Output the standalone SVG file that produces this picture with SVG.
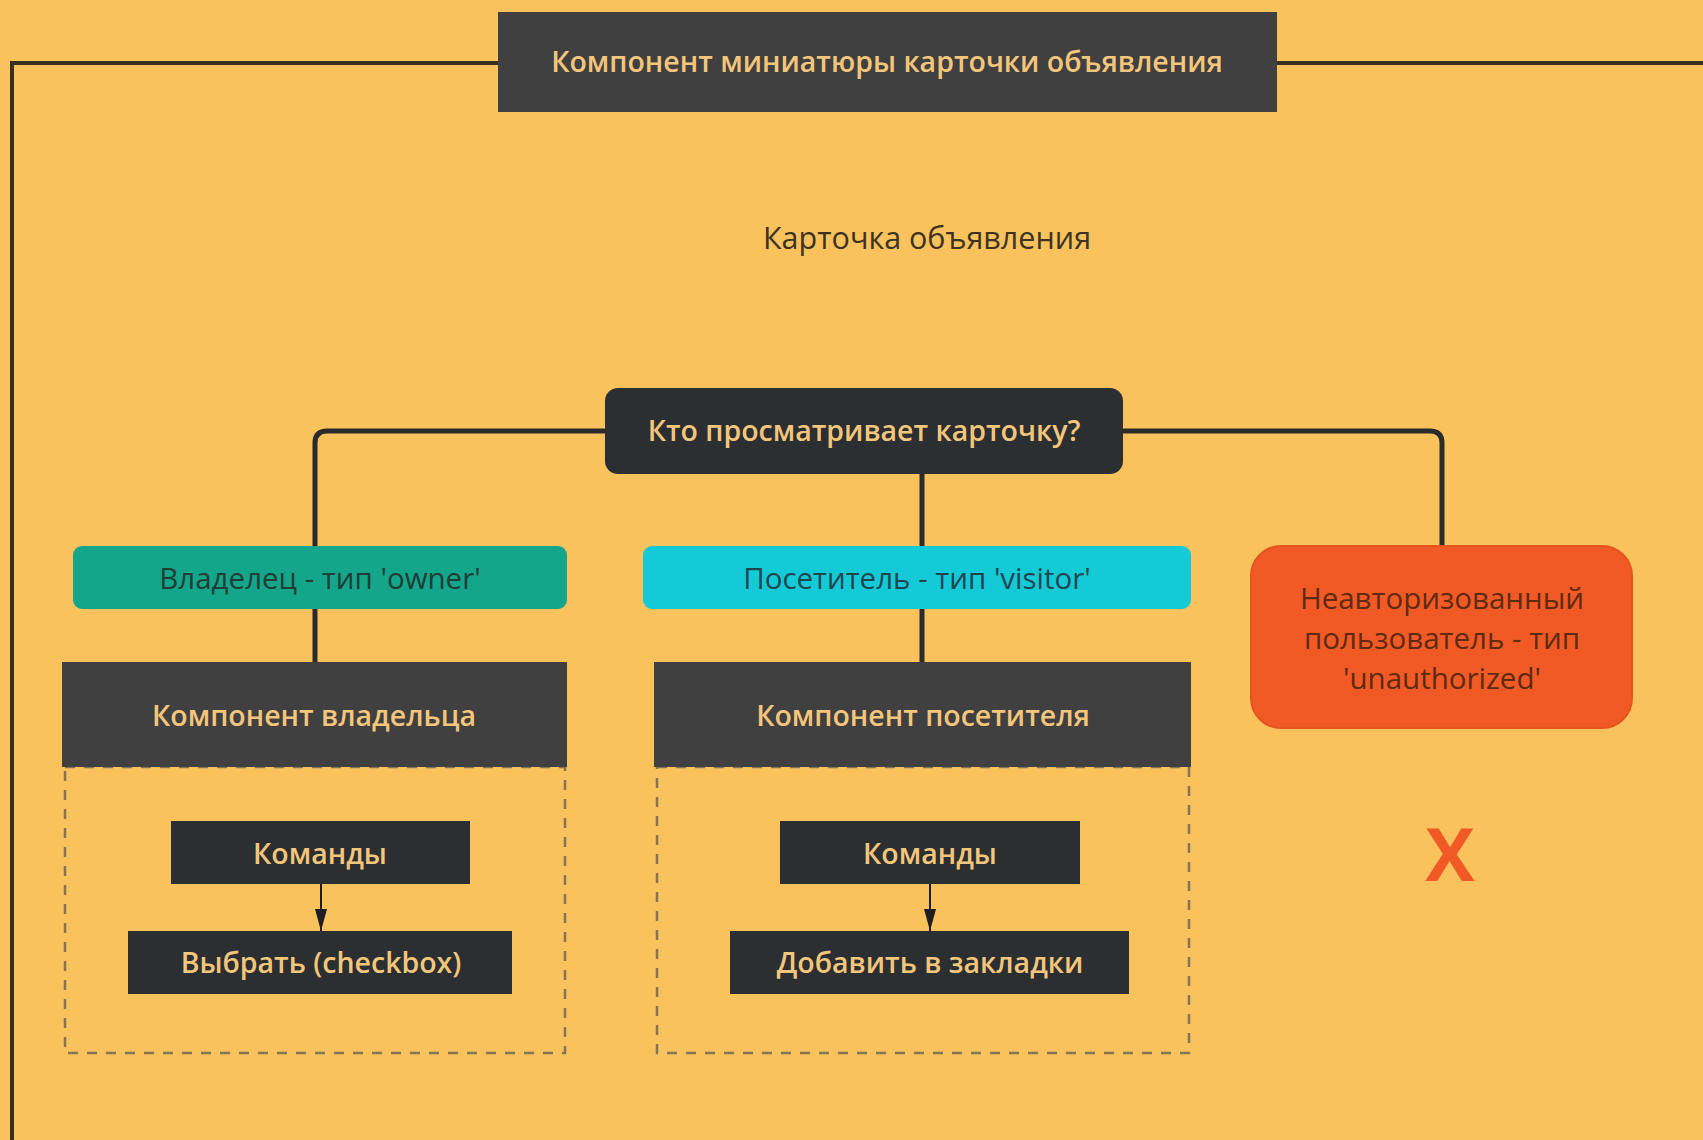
<svg xmlns="http://www.w3.org/2000/svg" width="1703" height="1140" viewBox="0 0 1703 1140">
<defs>
<style>
.t{font-family:"Open Sans","Noto Sans","DejaVu Sans",sans-serif;text-anchor:middle;dominant-baseline:central}
.sb{font-weight:600;fill:#f3c67c;font-size:28.5px}
.rg{font-size:29.5px}
.dark{fill:#404040}
.darker{fill:#2b2f31}
.conn{fill:none;stroke:#2b2b2b;stroke-width:5;stroke-linejoin:round}
.dash{fill:none;stroke:#857557;stroke-width:2.5;stroke-dasharray:10 9}
</style>
<marker id="arr" markerWidth="22" markerHeight="12" refX="22" refY="6" orient="auto" markerUnits="userSpaceOnUse" viewBox="0 0 22 12">
<path d="M0,0 L22,6 L0,12 Z" fill="#1f1f1f"/>
</marker>
</defs>
<rect width="1703" height="1140" fill="#f9c25c"/>
<g id="frame">
<path d="M498,63 H12 V1140" fill="none" stroke="#3b3020" stroke-width="4"/>
<path d="M1277,63 H1703" fill="none" stroke="#3b3020" stroke-width="4"/>
</g>
<g id="connectors">
<path class="conn" d="M605,431 H327 Q315,431 315,443 V546"/>
<path class="conn" d="M315,609 V662"/>
<path class="conn" d="M922,474 V546"/>
<path class="conn" d="M922,609 V662"/>
<path class="conn" d="M1123,431 H1430 Q1442,431 1442,443 V546"/>
<path d="M321,884 V931" stroke="#1f1f1f" stroke-width="2" fill="none" marker-end="url(#arr)"/>
<path d="M930,884 V931" stroke="#1f1f1f" stroke-width="2" fill="none" marker-end="url(#arr)"/>
</g>
<g id="title">
<rect x="498" y="12" width="779" height="100" class="dark"/>
<text x="887" y="61" class="t sb">Компонент миниатюры карточки объявления</text>
</g>
<g id="card-label">
<text x="927" y="237" class="t" font-size="30.5" fill="#3d3322">Карточка объявления</text>
</g>
<g id="question">
<rect x="605" y="388" width="518" height="86" rx="13" class="darker"/>
<text x="864" y="430" class="t sb">Кто просматривает карточку?</text>
</g>
<g id="owner-type">
<rect x="73" y="546" width="494" height="63" rx="9" fill="#14a68a"/>
<text x="320" y="577" class="t rg" fill="#1e3d38">Владелец - тип 'owner'</text>
</g>
<g id="visitor-type">
<rect x="643" y="546" width="548" height="63" rx="9" fill="#14cad6"/>
<text x="917" y="577" class="t rg" fill="#1f4650">Посетитель - тип 'visitor'</text>
</g>
<g id="unauth-type">
<rect x="1251" y="546" width="381" height="182" rx="30" fill="#f15a24" stroke="#e4541f" stroke-width="2"/>
<text class="t rg" fill="#5e2a12"><tspan x="1442" y="597">Неавторизованный</tspan><tspan x="1442" y="637">пользователь - тип</tspan><tspan x="1442" y="677">'unauthorized'</tspan></text>
</g>
<g id="owner-component">
<rect x="65" y="767" width="500" height="286" class="dash"/>
<rect x="62" y="662" width="505" height="105" class="dark"/>
<text x="314" y="715" class="t sb">Компонент владельца</text>
</g>
<g id="visitor-component">
<rect x="657" y="767" width="532" height="286" class="dash"/>
<rect x="654" y="662" width="537" height="105" class="dark"/>
<text x="923" y="715" class="t sb">Компонент посетителя</text>
</g>
<g id="owner-commands">
<rect x="171" y="821" width="299" height="63" class="darker"/>
<text x="320" y="853" class="t sb">Команды</text>
</g>
<g id="owner-select">
<rect x="128" y="931" width="384" height="63" class="darker"/>
<text x="321" y="962" class="t sb">Выбрать (checkbox)</text>
</g>
<g id="visitor-commands">
<rect x="780" y="821" width="300" height="63" class="darker"/>
<text x="930" y="853" class="t sb">Команды</text>
</g>
<g id="visitor-bookmark">
<rect x="730" y="931" width="399" height="63" class="darker"/>
<text x="930" y="962" class="t sb">Добавить в закладки</text>
</g>
<g id="unauth-none">
<text x="1450" y="852" class="t" font-size="74" font-weight="700" fill="#f15a24">X</text>
</g>
</svg>
